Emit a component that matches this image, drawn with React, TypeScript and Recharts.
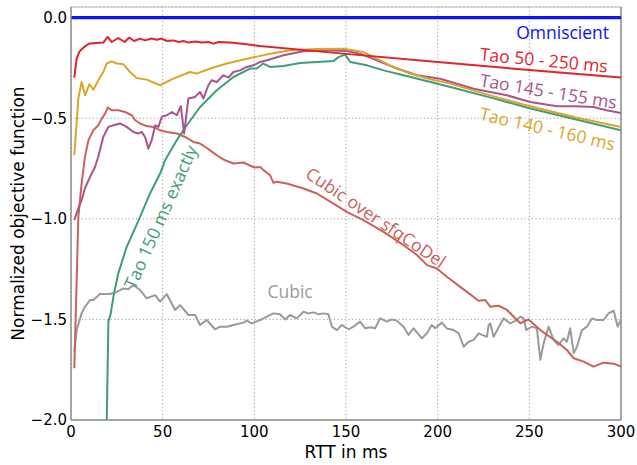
import React from 'react';
import {
  LineChart,
  Line,
  XAxis,
  YAxis,
  CartesianGrid,
  ReferenceLine,
  ReferenceDot,
} from 'recharts';

type Pt = [number, number];

// readings, [RTT ms, normalized objective]
const omniscient: Pt[] = [[0, 0], [300, 0]];

const tao50to250: Pt[] = [
  [1.8, -0.298], [3.1, -0.204], [4.5, -0.17], [5.8, -0.157], [8, -0.14], [10, -0.129],
  [14, -0.126], [17.6, -0.124], [20, -0.096], [22.2, -0.121], [25.8, -0.101], [29.3, -0.121],
  [31.8, -0.099], [34.4, -0.116], [37.7, -0.104], [40.4, -0.113], [44, -0.104], [46.8, -0.11],
  [49.5, -0.104], [52.3, -0.116], [55.9, -0.113], [58.7, -0.121], [61.4, -0.116], [64.1, -0.124],
  [67.8, -0.118], [71.4, -0.124], [75, -0.121], [77.8, -0.129], [80.5, -0.121], [86.8, -0.124],
  [95.9, -0.132], [103, -0.141], [150, -0.18], [200, -0.221], [250, -0.26], [300, -0.298],
];

const tao140to160: Pt[] = [
  [1.8, -0.684], [4, -0.402], [5.8, -0.32], [7.7, -0.386], [10, -0.331], [12.2, -0.358],
  [14.9, -0.311], [17.6, -0.27], [19.5, -0.228], [22.2, -0.217], [25, -0.228], [28.6, -0.232],
  [32.2, -0.27], [35.8, -0.3], [41.3, -0.308], [48.6, -0.336], [55.8, -0.303], [65, -0.27],
  [68.6, -0.278], [75.9, -0.253], [85, -0.228], [95.9, -0.204], [103.2, -0.19], [108.6, -0.179],
  [119.5, -0.162], [134.1, -0.156], [148.6, -0.154], [159.5, -0.171], [163.2, -0.187],
  [174.1, -0.237], [185, -0.278], [196, -0.306], [206.9, -0.328], [230, -0.39], [250.5, -0.44],
  [275, -0.495], [300, -0.543],
];

const tao145to155: Pt[] = [
  [1.8, -1.006], [4, -0.948], [5.8, -0.907], [7.6, -0.849], [10.4, -0.791], [13.1, -0.742],
  [14.9, -0.69], [17.6, -0.593], [20.4, -0.543], [23.1, -0.535], [26.7, -0.526], [30.4, -0.543],
  [34, -0.568], [36.7, -0.576], [38.5, -0.568], [40.4, -0.593], [42.2, -0.651], [44, -0.609],
  [45.9, -0.535], [47.7, -0.543], [49.5, -0.493], [52.2, -0.485], [55, -0.469], [57.7, -0.485],
  [59.9, -0.44], [61.7, -0.576], [64, -0.402], [67.7, -0.394], [70.4, -0.369], [72.2, -0.402],
  [74.9, -0.336], [76.7, -0.311], [79.5, -0.32], [83.1, -0.286], [85.9, -0.298], [88.6, -0.27],
  [92.2, -0.262], [95.9, -0.245], [99.5, -0.237], [103.2, -0.22], [106.9, -0.212],
  [115.9, -0.187], [126.8, -0.167], [137.7, -0.162], [150.4, -0.166], [157.7, -0.179],
  [166.8, -0.212], [177.8, -0.253], [188.7, -0.286], [201.4, -0.304], [219.6, -0.353],
  [237.8, -0.386], [250.5, -0.419], [265.1, -0.44], [275, -0.44], [285, -0.444], [292, -0.46],
  [300, -0.474],
];

const tao150: Pt[] = [
  [19.5, -2.0], [20.4, -1.511], [21.7, -1.47], [23.1, -1.388], [25.8, -1.271], [30.4, -1.139],
  [37.7, -0.99], [43.1, -0.874], [48.6, -0.775], [51.3, -0.709], [54, -0.667], [57.7, -0.609],
  [63.2, -0.535], [70.4, -0.444], [79.5, -0.361], [88.6, -0.295], [97.7, -0.253],
  [101.3, -0.253], [104.9, -0.228], [108.6, -0.245], [115.9, -0.24], [125, -0.225],
  [134.1, -0.22], [143.2, -0.215], [145.9, -0.196], [149.5, -0.184], [152.3, -0.22],
  [161.4, -0.237], [170.5, -0.262], [181.4, -0.286], [192.3, -0.311], [206.9, -0.345],
  [230, -0.4], [250, -0.45], [275, -0.505], [300, -0.56],
];

const cubicSfq: Pt[] = [
  [1.8, -1.743], [3.1, -1.304], [4, -0.99], [5.8, -0.824], [7.6, -0.692], [9.5, -0.609],
  [12.2, -0.56], [14.9, -0.535], [16.8, -0.502], [18.6, -0.477], [20, -0.447], [22.2, -0.46],
  [25.8, -0.46], [29.5, -0.469], [33.1, -0.485], [35, -0.51], [37.7, -0.526], [41.3, -0.539],
  [45, -0.543], [48.6, -0.56], [52.2, -0.568], [57.7, -0.576], [62.3, -0.593], [66.8, -0.618],
  [70.4, -0.626], [74.1, -0.648], [77.7, -0.672], [81.3, -0.695], [84, -0.709], [88.6, -0.725],
  [94.1, -0.72], [97.7, -0.736], [100.4, -0.745], [103.2, -0.742], [105, -0.758],
  [108.6, -0.783], [110.4, -0.821], [112.3, -0.816], [117.7, -0.824], [126.8, -0.849],
  [134.1, -0.874], [143.2, -0.924], [150.4, -0.965], [159.5, -1.006], [170.5, -1.065],
  [181.4, -1.131], [188.7, -1.18], [194.2, -1.23], [199.6, -1.247], [205, -1.288],
  [212.3, -1.338], [216, -1.363], [222.3, -1.407], [226, -1.404], [228.7, -1.437],
  [233.3, -1.432], [237.8, -1.453], [245.1, -1.519], [249.6, -1.5], [256, -1.553],
  [265.1, -1.611], [270.5, -1.652], [274.2, -1.693], [279.6, -1.71], [285, -1.735],
  [290.5, -1.715], [296, -1.72], [300, -1.735],
];

const cubic: Pt[] = [
  [1.8, -1.66], [3.1, -1.553], [5.8, -1.47], [7.6, -1.437], [10.4, -1.404], [12.2, -1.404],
  [15.8, -1.374], [21.3, -1.374], [24.9, -1.363], [28.6, -1.346], [31.3, -1.35], [34, -1.329],
  [37.7, -1.354], [41.3, -1.395], [45.9, -1.379], [48.6, -1.412], [52.2, -1.374],
  [56.8, -1.453], [59.5, -1.429], [64.1, -1.478], [67.7, -1.478], [70.4, -1.528], [74, -1.503],
  [78.6, -1.549], [81.3, -1.536], [85, -1.536], [88.6, -1.528], [94.1, -1.516], [95.9, -1.506],
  [98.6, -1.52], [103.2, -1.503], [105, -1.495], [110.4, -1.47], [114, -1.474], [116.8, -1.5],
  [119.5, -1.478], [123.2, -1.495], [126.8, -1.462], [129.5, -1.47], [132.3, -1.465],
  [135, -1.474], [137.7, -1.47], [140.4, -1.474], [142.3, -1.536], [145, -1.553],
  [147.7, -1.528], [151.4, -1.549], [154.1, -1.536], [157.7, -1.511], [160.4, -1.544],
  [163.2, -1.539], [165.9, -1.544], [168.6, -1.495], [172.3, -1.511], [175, -1.5],
  [177.7, -1.506], [181.4, -1.536], [184.1, -1.577], [186.8, -1.544], [191.4, -1.594],
  [194.1, -1.569], [196.8, -1.528], [198.6, -1.544], [202.3, -1.516], [205, -1.545],
  [208.7, -1.553], [211.5, -1.569], [214.2, -1.636], [216.9, -1.611], [219.6, -1.602],
  [222.3, -1.569], [224.2, -1.577], [226.9, -1.586], [227.8, -1.528], [228.7, -1.52],
  [230.5, -1.586], [235.9, -1.495], [239.6, -1.52], [243.2, -1.503], [245.1, -1.486],
  [246.9, -1.495], [248.3, -1.553], [251.4, -1.536], [254.1, -1.544], [256, -1.701],
  [257.8, -1.619], [260.5, -1.536], [263.2, -1.602], [265.9, -1.627], [268.7, -1.594],
  [270.5, -1.611], [272.3, -1.544], [274.2, -1.668], [276, -1.635], [278.7, -1.553],
  [281.4, -1.536], [284.2, -1.495], [286.9, -1.503], [290.5, -1.503], [293.2, -1.47],
  [296, -1.457], [298.2, -1.536], [300, -1.5],
];

const xTicks = [0, 50, 100, 150, 200, 250, 300];
const yTicks = [-2, -1.5, -1, -0.5, 0];
const Y_TOP = 0.053;

const series = [
  { name: 'Cubic', pts: cubic, color: '#9a9a9a', width: 2 },
  { name: 'Cubic over sfqCoDel', pts: cubicSfq, color: '#c9625c', width: 2 },
  { name: 'Tao 150 ms exactly', pts: tao150, color: '#3f9d78', width: 2 },
  { name: 'Tao 145 - 155 ms', pts: tao145to155, color: '#a8558a', width: 2 },
  { name: 'Tao 140 - 160 ms', pts: tao140to160, color: '#dca52a', width: 2 },
  { name: 'Tao 50 - 250 ms', pts: tao50to250, color: '#e3232a', width: 2 },
  { name: 'Omniscient', pts: omniscient, color: '#0a14f5', width: 3.2 },
];

// in-plot labels, anchored in data coordinates
const annotations = [
  { text: 'Omniscient', x: 293.5, y: -0.071, angle: 0, color: '#0a14f5', anchor: 'end' },
  { text: 'Tao 50 - 250 ms', x: 258, y: -0.208, angle: 5.5, color: '#e3232a', anchor: 'middle' },
  { text: 'Tao 145 - 155 ms', x: 260.5, y: -0.363, angle: 9.5, color: '#a8558a', anchor: 'middle' },
  { text: 'Tao 140 - 160 ms', x: 260, y: -0.55, angle: 13, color: '#dca52a', anchor: 'middle' },
  { text: 'Cubic over sfqCoDel', x: 166.5, y: -0.99, angle: 34, color: '#c9625c', anchor: 'middle' },
  { text: 'Tao 150 ms exactly', x: 48.6, y: -0.99, angle: -66, color: '#3f9d78', anchor: 'middle' },
  { text: 'Cubic', x: 119.5, y: -1.358, angle: 0, color: '#9a9a9a', anchor: 'middle' },
];

const toRows = (pts: Pt[]) => pts.map(([x, y]) => ({ x, y }));

const fmtY = (v: number) => (v < 0 ? '\u2212' : '') + Math.abs(v).toFixed(1);

const axisFont = { fill: '#000', fontSize: 15, fontFamily: 'DejaVu Sans' };

function annotLabel(a: (typeof annotations)[number]) {
  return (props: any) => {
    const vb = props.viewBox || {};
    const cx = vb.x + (vb.width || 0) / 2;
    const cy = vb.y + (vb.height || 0) / 2;
    return (
      <text
        x={cx}
        y={cy}
        fill={a.color}
        fontSize={17.5}
        fontFamily="Open Sans"
        textAnchor={a.anchor}
        dominantBaseline="central"
        transform={`rotate(${a.angle} ${cx} ${cy})`}
      >
        {a.text}
      </text>
    );
  };
}

export default function App() {
  return (
    <div style={{ position: 'absolute', left: 0, top: 0, width: 637, height: 465, background: '#fff' }}>
      <LineChart width={637} height={465} margin={{ top: 7, right: 16, bottom: 0, left: 0 }}>
        <CartesianGrid stroke="#a0a0a0" strokeDasharray="1.2 2.4" />
        <XAxis
          type="number"
          dataKey="x"
          domain={[0, 300]}
          ticks={xTicks}
          allowDataOverflow
          height={45}
          tick={axisFont}
          tickLine={false}
          tickSize={4}
          tickMargin={2}
          axisLine={{ stroke: '#8c8c8c', strokeWidth: 1.5 }}
          label={{
            content: (p: any) => {
              const vb = p.viewBox;
              return (
                <text x={vb.x + vb.width / 2} y={452} textAnchor="middle" dominantBaseline="central"
                  fontSize={17} fontFamily="DejaVu Sans" fill="#000">
                  RTT in ms
                </text>
              );
            },
          }}
        />
        <YAxis
          type="number"
          dataKey="y"
          domain={[-2, Y_TOP]}
          ticks={yTicks}
          allowDataOverflow
          width={71}
          tick={axisFont}
          tickFormatter={fmtY}
          tickLine={false}
          tickSize={4}
          tickMargin={0}
          axisLine={{ stroke: '#8c8c8c', strokeWidth: 1.5 }}
          label={{
            content: (p: any) => {
              const vb = p.viewBox;
              const cx = 18;
              const cy = vb.y + vb.height / 2;
              return (
                <text x={cx} y={cy} textAnchor="middle" dominantBaseline="central"
                  transform={`rotate(-90 ${cx} ${cy})`}
                  fontSize={17} fontFamily="DejaVu Sans" fill="#000">
                  Normalized objective function
                </text>
              );
            },
          }}
        />
        <ReferenceLine y={Y_TOP} stroke="#bdbdbd" strokeWidth={1} />
        <ReferenceLine x={300} stroke="#8c8c8c" strokeWidth={1.5} />
        {series.map((s) => (
          <Line
            key={s.name}
            data={toRows(s.pts)}
            dataKey="y"
            type="linear"
            stroke={s.color}
            strokeWidth={s.width}
            dot={false}
            activeDot={false}
            isAnimationActive={false}
            strokeLinejoin="round"
          />
        ))}
        {annotations.map((a) => (
          <ReferenceDot
            key={a.text}
            x={a.x}
            y={a.y}
            r={1}
            fill="none"
            stroke="none"
            label={{ content: annotLabel(a) }}
          />
        ))}
      </LineChart>
    </div>
  );
}
